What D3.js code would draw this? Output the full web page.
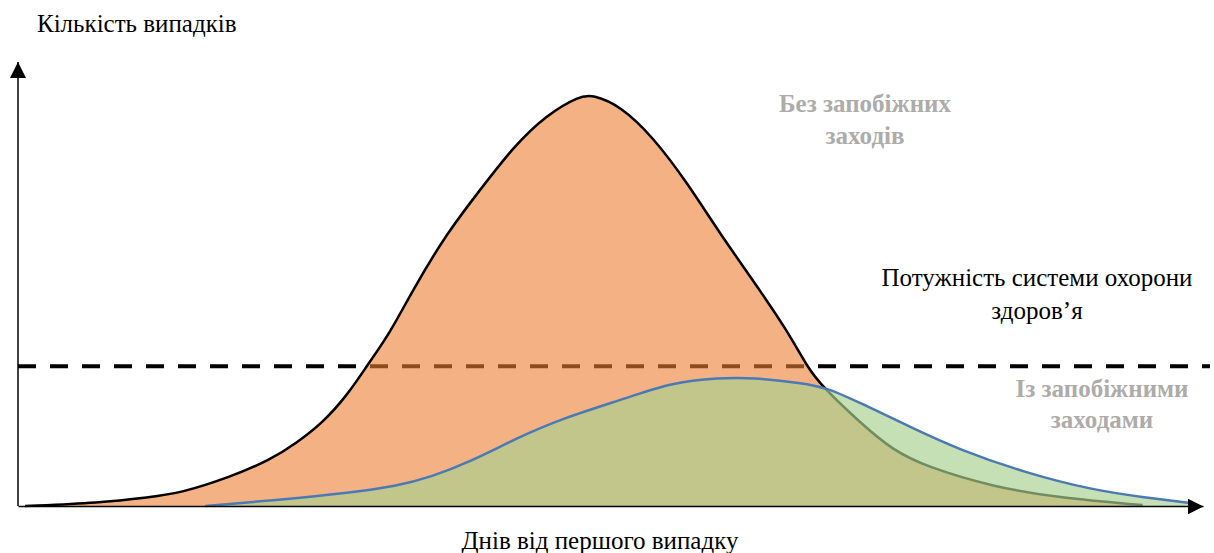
<!DOCTYPE html>
<html>
<head>
<meta charset="utf-8">
<script src="https://cdn.jsdelivr.net/npm/d3@7"></script>
<style>
  body { margin: 0; background: #fff; }
  svg text { font-family: "Liberation Serif", "DejaVu Serif", "Noto Serif", "Times New Roman", Times, serif; }
</style>
</head>
<body>
<div id="chart"></div>
<script>
// curve without measures (days, share of cases)
var noMeasuresDays = [0.6, 6.9, 11.1, 13.7, 17.9, 21.3, 23.5, 25.7, 27.8, 29.5, 31.4, 33.3, 36.2, 39.0, 41.8, 44.6, 47.4, 48.5, 50.8, 53.6, 56.5, 59.2, 62.0, 64.9, 66.6, 67.9, 71.1, 73.8, 76.7, 82.3, 87.9, 94.9];
var noMeasuresCases = [0, 0.7, 2.0, 2.9, 6.5, 10.4, 14.2, 18.7, 25.0, 31.8, 39.0, 48.6, 61.5, 71.2, 80.9, 88.1, 92.4, 92.6, 90.2, 83.1, 72.7, 61.5, 50.9, 39.6, 31.3, 26.8, 18.7, 12.6, 8.8, 4.3, 1.8, 0.2];

// curve with measures
var measuresDays = [15.8, 22.1, 27.8, 32.0, 34.8, 38.1, 42.1, 46.0, 51.6, 55.0, 59.2, 62.0, 66.2, 68.3, 71.1, 75.3, 79.5, 85.1, 90.7, 94.9, 98.9];
var measuresCases = [0, 1.4, 2.9, 4.5, 6.5, 9.9, 15.3, 19.8, 24.5, 27.7, 28.9, 28.9, 27.7, 26.6, 23.2, 17.8, 12.6, 7.4, 3.6, 2.0, 0.7];

var capacity = 31.5;

var labels = {
  y: "Кількість випадків",
  x: "Днів від першого випадку",
  noMeasures: ["Без запобіжних", "заходів"],
  measures: ["Із запобіжними", "заходами"],
  capacity: ["Потужність системи охорони", "здоров’я"]
};

var width = 1214, height = 553;
var svg = d3.select("#chart").append("svg").attr("width", width).attr("height", height);

var x = d3.scaleLinear().domain([0, 100]).range([18, 1203]);
var y = d3.scaleLinear().domain([0, 100]).range([506, 62]);

var defs = svg.append("defs");
defs.append("marker").attr("id", "arrow").attr("viewBox", "0 0 10 10")
  .attr("refX", 10).attr("refY", 5).attr("markerWidth", 16).attr("markerHeight", 16)
  .attr("markerUnits", "userSpaceOnUse").attr("orient", "auto")
  .append("path").attr("d", "M0,0L10,5L0,10Z").attr("fill", "#000");

// capacity line (under the curves)
svg.append("line")
  .attr("x1", x(0)).attr("x2", 1210)
  .attr("y1", y(capacity)).attr("y2", y(capacity))
  .attr("stroke", "#000").attr("stroke-width", 4).attr("stroke-dasharray", "18,14");

var orange = noMeasuresDays.map(function(d, i) { return [d, noMeasuresCases[i]]; });
var green = measuresDays.map(function(d, i) { return [d, measuresCases[i]]; });

var area = d3.area().x(function(d) { return x(d[0]); }).y0(y(0)).y1(function(d) { return y(d[1]); })
  .curve(d3.curveBasis);
var line = d3.line().x(function(d) { return x(d[0]); }).y(function(d) { return y(d[1]); })
  .curve(d3.curveBasis);

svg.append("path").datum(orange).attr("d", area)
  .attr("fill", "#ED7D31").attr("fill-opacity", 0.6);
svg.append("path").datum(orange).attr("d", line)
  .attr("fill", "none").attr("stroke", "#000").attr("stroke-width", 2.5);

svg.append("path").datum(green).attr("d", area)
  .attr("fill", "rgb(169,209,143)").attr("fill-opacity", 0.67);
svg.append("path").datum(green).attr("d", line)
  .attr("fill", "none").attr("stroke", "#4A7AB4").attr("stroke-width", 2.5);

// axes without ticks
var xAxis = svg.append("g").attr("transform", "translate(0," + y(0) + ")")
  .call(d3.axisBottom(x).ticks(0).tickSize(0).tickSizeOuter(0));
xAxis.select(".domain").attr("stroke", "#000").attr("stroke-width", 1.5).attr("marker-end", "url(#arrow)");

var yAxis = svg.append("g").attr("transform", "translate(" + x(0) + ",0)")
  .call(d3.axisLeft(y).ticks(0).tickSize(0).tickSizeOuter(0));
yAxis.select(".domain").attr("stroke", "#000").attr("stroke-width", 1.5)
  .attr("d", "M0," + y(0) + "V" + y(100)).attr("marker-end", "url(#arrow)");

// texts
svg.append("text").attr("x", 37).attr("y", 32).style("font-size", "25px").text(labels.y);
svg.append("text").attr("x", 600).attr("y", 549).attr("text-anchor", "middle")
  .style("font-size", "25px").text(labels.x);

function block(lines, cx, cy, opts) {
  var t = svg.append("text").attr("text-anchor", "middle")
    .style("font-size", opts.size + "px").attr("fill", opts.color).style("font-weight", opts.weight);
  lines.forEach(function(s, i) {
    t.append("tspan").attr("x", cx).attr("y", cy + i * opts.lh).text(s);
  });
}
block(labels.noMeasures, 865, 112, { size: 25, color: "#AEABAB", weight: "bold", lh: 32 });
block(labels.measures, 1102, 397, { size: 25, color: "#AEABAB", weight: "bold", lh: 31 });
block(labels.capacity, 1037, 286, { size: 25, color: "#000", weight: "normal", lh: 33 });
</script>
</body>
</html>
